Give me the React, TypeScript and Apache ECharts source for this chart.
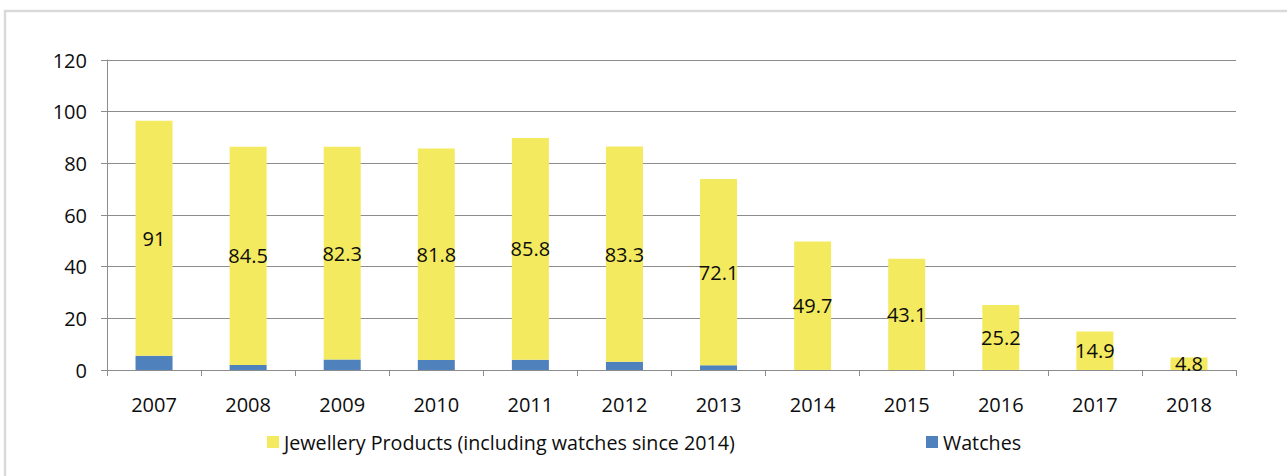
import React, { useEffect, useRef } from "react";
import * as echarts from "echarts";

const years = ["2007", "2008", "2009", "2010", "2011", "2012", "2013", "2014", "2015", "2016", "2017", "2018"];
const jewellery = [91, 84.5, 82.3, 81.8, 85.8, 83.3, 72.1, 49.7, 43.1, 25.2, 14.9, 4.8];
const watches = [5.5, 1.9, 4.1, 3.9, 4.0, 3.2, 1.8, 0, 0, 0, 0, 0];
const yTicks = { min: 0, max: 120, interval: 20 };
const jewelleryName = "Jewellery Products (including watches since 2014)";
const watchesName = "Watches";

const FONT = "'Open Sans', 'Liberation Sans', sans-serif";
const TXT = "#0d0d0d";

export default function App() {
  const ref = useRef<HTMLDivElement>(null);
  useEffect(() => {
    if (!ref.current) return;
    const chart = echarts.init(ref.current, undefined, { renderer: "svg" });
    chart.setOption({
      animation: false,
      backgroundColor: "#ffffff",
      textStyle: { fontFamily: FONT },
      graphic: [
        {
          type: "rect",
          shape: { x: 5, y: 11, width: 1400, height: 600 },
          style: { fill: "none", stroke: "#d9d9d9", lineWidth: 2.5 },
          silent: true,
        },
      ],
      grid: { left: 107, right: 51, top: 60, bottom: 106, containLabel: false },
      legend: [
        {
          data: [jewelleryName],
          left: 262,
          top: 427,
          icon: "rect",
          itemWidth: 12,
          itemHeight: 12,
          itemGap: 5,
          textStyle: { fontSize: 19.7, color: TXT, fontFamily: FONT },
        },
        {
          data: [watchesName],
          left: 921,
          top: 427,
          icon: "rect",
          itemWidth: 12,
          itemHeight: 12,
          itemGap: 5,
          textStyle: { fontSize: 19.7, color: TXT, fontFamily: FONT },
        },
      ],
      xAxis: {
        type: "category",
        data: years,
        axisLine: { show: true, lineStyle: { color: "#8c8c8c", width: 1 } },
        axisTick: { show: true, length: 6, lineStyle: { color: "#8c8c8c" } },
        axisLabel: { fontSize: 20, color: TXT, margin: 24, fontFamily: FONT },
      },
      yAxis: {
        type: "value",
        min: yTicks.min,
        max: yTicks.max,
        interval: yTicks.interval,
        axisLine: { show: true, lineStyle: { color: "#8c8c8c", width: 1 } },
        axisTick: { show: true, length: 6, lineStyle: { color: "#8c8c8c" } },
        splitLine: { show: true, lineStyle: { color: "#8c8c8c", width: 1 } },
        axisLabel: { fontSize: 20, color: TXT, margin: 20, fontFamily: FONT },
      },
      series: [
        {
          name: watchesName,
          type: "bar",
          stack: "total",
          data: watches,
          barWidth: 37,
          itemStyle: { color: "#4f81bd" },
        },
        {
          name: jewelleryName,
          type: "bar",
          stack: "total",
          data: jewellery,
          barWidth: 37,
          itemStyle: { color: "#f4ea5f" },
          label: {
            show: true,
            position: "inside",
            fontSize: 20,
            color: TXT,
            fontFamily: FONT,
          },
        },
      ],
    });
    return () => chart.dispose();
  }, []);
  return (
    <div
      ref={ref}
      style={{ position: "absolute", left: 0, top: 0, width: 1287, height: 476 }}
    />
  );
}
